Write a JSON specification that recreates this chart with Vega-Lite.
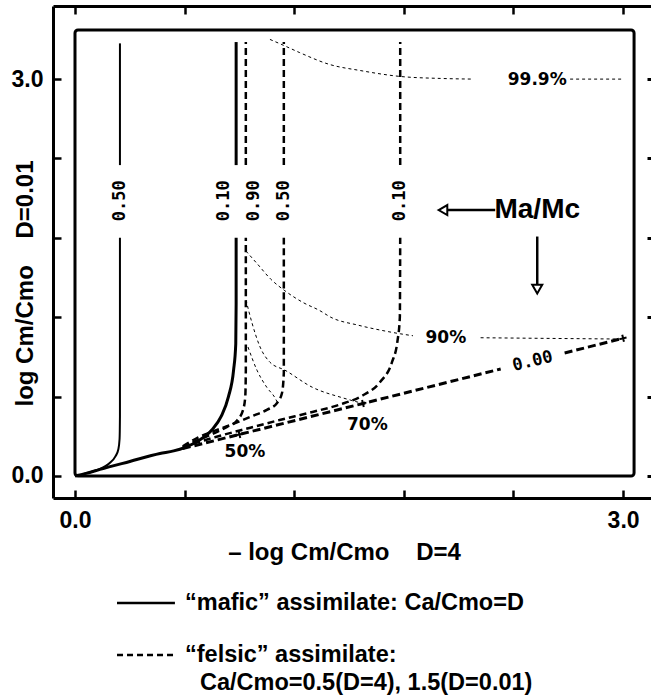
{
  "$schema": "https://vega.github.io/schema/vega-lite/v6.json",
  "width": 598,
  "height": 492,
  "autosize": {"type": "none"},
  "padding": {"left": 53, "top": 6, "right": 0, "bottom": 197},
  "background": "white",
  "config": {"view": {"stroke": null}, "text": {"font": "DejaVu Sans", "color": "black"}},
  "datasets": {
    "frame": [{"x": 0, "x2": 3.06, "y": 0, "y2": 3.371}],
    "ticks": [{"v": 0}, {"v": 0.6}, {"v": 1.2}, {"v": 1.8}, {"v": 2.4}, {"v": 3}],
    "curves": [
      {"curve": "mafic 0.50", "type": "mafic", "seg": "a", "i": 0, "x": 0, "y": 0},
      {"curve": "mafic 0.50", "type": "mafic", "seg": "a", "i": 1, "x": 0.06, "y": 0.02},
      {"curve": "mafic 0.50", "type": "mafic", "seg": "a", "i": 2, "x": 0.12, "y": 0.045},
      {"curve": "mafic 0.50", "type": "mafic", "seg": "a", "i": 3, "x": 0.19, "y": 0.098},
      {"curve": "mafic 0.50", "type": "mafic", "seg": "a", "i": 4, "x": 0.222, "y": 0.15},
      {"curve": "mafic 0.50", "type": "mafic", "seg": "a", "i": 5, "x": 0.237, "y": 0.2},
      {"curve": "mafic 0.50", "type": "mafic", "seg": "a", "i": 6, "x": 0.244, "y": 0.28},
      {"curve": "mafic 0.50", "type": "mafic", "seg": "a", "i": 7, "x": 0.246, "y": 0.45},
      {"curve": "mafic 0.50", "type": "mafic", "seg": "a", "i": 8, "x": 0.246, "y": 1.8},
      {"curve": "mafic 0.50", "type": "mafic", "seg": "b", "i": 9, "x": 0.246, "y": 2.35},
      {"curve": "mafic 0.50", "type": "mafic", "seg": "b", "i": 10, "x": 0.246, "y": 3.27},

      {"curve": "mafic 0.10", "type": "mafic", "seg": "a", "i": 0, "x": 0, "y": 0},
      {"curve": "mafic 0.10", "type": "mafic", "seg": "a", "i": 1, "x": 0.06, "y": 0.02},
      {"curve": "mafic 0.10", "type": "mafic", "seg": "a", "i": 2, "x": 0.137, "y": 0.05},
      {"curve": "mafic 0.10", "type": "mafic", "seg": "a", "i": 3, "x": 0.3, "y": 0.11},
      {"curve": "mafic 0.10", "type": "mafic", "seg": "a", "i": 4, "x": 0.465, "y": 0.17},
      {"curve": "mafic 0.10", "type": "mafic", "seg": "a", "i": 5, "x": 0.54, "y": 0.19},
      {"curve": "mafic 0.10", "type": "mafic", "seg": "a", "i": 6, "x": 0.6, "y": 0.215},
      {"curve": "mafic 0.10", "type": "mafic", "seg": "a", "i": 7, "x": 0.68, "y": 0.27},
      {"curve": "mafic 0.10", "type": "mafic", "seg": "a", "i": 8, "x": 0.75, "y": 0.35},
      {"curve": "mafic 0.10", "type": "mafic", "seg": "a", "i": 9, "x": 0.8, "y": 0.45},
      {"curve": "mafic 0.10", "type": "mafic", "seg": "a", "i": 10, "x": 0.84, "y": 0.6},
      {"curve": "mafic 0.10", "type": "mafic", "seg": "a", "i": 11, "x": 0.868, "y": 0.8},
      {"curve": "mafic 0.10", "type": "mafic", "seg": "a", "i": 12, "x": 0.88, "y": 1.0},
      {"curve": "mafic 0.10", "type": "mafic", "seg": "a", "i": 13, "x": 0.882, "y": 1.3},
      {"curve": "mafic 0.10", "type": "mafic", "seg": "a", "i": 14, "x": 0.882, "y": 1.8},
      {"curve": "mafic 0.10", "type": "mafic", "seg": "b", "i": 15, "x": 0.882, "y": 2.35},
      {"curve": "mafic 0.10", "type": "mafic", "seg": "b", "i": 16, "x": 0.882, "y": 3.28},

      {"curve": "felsic 0.90", "type": "felsic", "seg": "a", "i": 0, "x": 0.59, "y": 0.215},
      {"curve": "felsic 0.90", "type": "felsic", "seg": "a", "i": 1, "x": 0.646, "y": 0.255},
      {"curve": "felsic 0.90", "type": "felsic", "seg": "a", "i": 2, "x": 0.74, "y": 0.31},
      {"curve": "felsic 0.90", "type": "felsic", "seg": "a", "i": 3, "x": 0.83, "y": 0.37},
      {"curve": "felsic 0.90", "type": "felsic", "seg": "a", "i": 4, "x": 0.887, "y": 0.42},
      {"curve": "felsic 0.90", "type": "felsic", "seg": "a", "i": 5, "x": 0.92, "y": 0.5},
      {"curve": "felsic 0.90", "type": "felsic", "seg": "a", "i": 6, "x": 0.932, "y": 0.6},
      {"curve": "felsic 0.90", "type": "felsic", "seg": "a", "i": 7, "x": 0.935, "y": 0.8},
      {"curve": "felsic 0.90", "type": "felsic", "seg": "a", "i": 8, "x": 0.935, "y": 1.8},
      {"curve": "felsic 0.90", "type": "felsic", "seg": "b", "i": 9, "x": 0.935, "y": 2.35},
      {"curve": "felsic 0.90", "type": "felsic", "seg": "b", "i": 10, "x": 0.935, "y": 3.28},

      {"curve": "felsic 0.50", "type": "felsic", "seg": "a", "i": 0, "x": 0.59, "y": 0.225},
      {"curve": "felsic 0.50", "type": "felsic", "seg": "a", "i": 1, "x": 0.668, "y": 0.287},
      {"curve": "felsic 0.50", "type": "felsic", "seg": "a", "i": 2, "x": 0.777, "y": 0.348},
      {"curve": "felsic 0.50", "type": "felsic", "seg": "a", "i": 3, "x": 0.887, "y": 0.405},
      {"curve": "felsic 0.50", "type": "felsic", "seg": "a", "i": 4, "x": 0.974, "y": 0.455},
      {"curve": "felsic 0.50", "type": "felsic", "seg": "a", "i": 5, "x": 1.05, "y": 0.5},
      {"curve": "felsic 0.50", "type": "felsic", "seg": "a", "i": 6, "x": 1.106, "y": 0.552},
      {"curve": "felsic 0.50", "type": "felsic", "seg": "a", "i": 7, "x": 1.133, "y": 0.627},
      {"curve": "felsic 0.50", "type": "felsic", "seg": "a", "i": 8, "x": 1.143, "y": 0.78},
      {"curve": "felsic 0.50", "type": "felsic", "seg": "a", "i": 9, "x": 1.143, "y": 1.8},
      {"curve": "felsic 0.50", "type": "felsic", "seg": "b", "i": 10, "x": 1.143, "y": 2.35},
      {"curve": "felsic 0.50", "type": "felsic", "seg": "b", "i": 11, "x": 1.143, "y": 3.28},

      {"curve": "felsic 0.10", "type": "felsic", "seg": "a", "i": 0, "x": 0.59, "y": 0.22},
      {"curve": "felsic 0.10", "type": "felsic", "seg": "a", "i": 1, "x": 0.77, "y": 0.295},
      {"curve": "felsic 0.10", "type": "felsic", "seg": "a", "i": 2, "x": 0.96, "y": 0.365},
      {"curve": "felsic 0.10", "type": "felsic", "seg": "a", "i": 3, "x": 1.12, "y": 0.423},
      {"curve": "felsic 0.10", "type": "felsic", "seg": "a", "i": 4, "x": 1.3, "y": 0.484},
      {"curve": "felsic 0.10", "type": "felsic", "seg": "a", "i": 5, "x": 1.45, "y": 0.54},
      {"curve": "felsic 0.10", "type": "felsic", "seg": "a", "i": 6, "x": 1.576, "y": 0.61},
      {"curve": "felsic 0.10", "type": "felsic", "seg": "a", "i": 7, "x": 1.67, "y": 0.71},
      {"curve": "felsic 0.10", "type": "felsic", "seg": "a", "i": 8, "x": 1.735, "y": 0.86},
      {"curve": "felsic 0.10", "type": "felsic", "seg": "a", "i": 9, "x": 1.765, "y": 1.02},
      {"curve": "felsic 0.10", "type": "felsic", "seg": "a", "i": 10, "x": 1.778, "y": 1.2},
      {"curve": "felsic 0.10", "type": "felsic", "seg": "a", "i": 11, "x": 1.78, "y": 1.8},
      {"curve": "felsic 0.10", "type": "felsic", "seg": "b", "i": 12, "x": 1.78, "y": 2.35},
      {"curve": "felsic 0.10", "type": "felsic", "seg": "b", "i": 13, "x": 1.78, "y": 3.28},

      {"curve": "felsic 0.00", "type": "felsic0", "seg": "a", "i": 0, "x": 0.59, "y": 0.207},
      {"curve": "felsic 0.00", "type": "felsic0", "seg": "a", "i": 1, "x": 2.33, "y": 0.809},
      {"curve": "felsic 0.00", "type": "felsic0", "seg": "b", "i": 2, "x": 2.68, "y": 0.93},
      {"curve": "felsic 0.00", "type": "felsic0", "seg": "b", "i": 3, "x": 3.0, "y": 1.041},

      {"curve": "Ma/Mc 99.9%", "type": "contour", "seg": "a", "i": 0, "x": 1.067, "y": 3.3},
      {"curve": "Ma/Mc 99.9%", "type": "contour", "seg": "a", "i": 1, "x": 1.15, "y": 3.25},
      {"curve": "Ma/Mc 99.9%", "type": "contour", "seg": "a", "i": 2, "x": 1.23, "y": 3.2},
      {"curve": "Ma/Mc 99.9%", "type": "contour", "seg": "a", "i": 3, "x": 1.395, "y": 3.11},
      {"curve": "Ma/Mc 99.9%", "type": "contour", "seg": "a", "i": 4, "x": 1.56, "y": 3.065},
      {"curve": "Ma/Mc 99.9%", "type": "contour", "seg": "a", "i": 5, "x": 1.78, "y": 3.02},
      {"curve": "Ma/Mc 99.9%", "type": "contour", "seg": "a", "i": 6, "x": 2.0, "y": 3.005},
      {"curve": "Ma/Mc 99.9%", "type": "contour", "seg": "a", "i": 7, "x": 2.18, "y": 3.0},
      {"curve": "Ma/Mc 99.9%", "type": "contour", "seg": "b", "i": 8, "x": 2.71, "y": 3.0},
      {"curve": "Ma/Mc 99.9%", "type": "contour", "seg": "b", "i": 9, "x": 3.0, "y": 3.0},

      {"curve": "Ma/Mc 90%", "type": "contour", "seg": "a", "i": 0, "x": 0.936, "y": 1.7},
      {"curve": "Ma/Mc 90%", "type": "contour", "seg": "a", "i": 1, "x": 1.0, "y": 1.6},
      {"curve": "Ma/Mc 90%", "type": "contour", "seg": "a", "i": 2, "x": 1.07, "y": 1.49},
      {"curve": "Ma/Mc 90%", "type": "contour", "seg": "a", "i": 3, "x": 1.149, "y": 1.4},
      {"curve": "Ma/Mc 90%", "type": "contour", "seg": "a", "i": 4, "x": 1.25, "y": 1.31},
      {"curve": "Ma/Mc 90%", "type": "contour", "seg": "a", "i": 5, "x": 1.34, "y": 1.25},
      {"curve": "Ma/Mc 90%", "type": "contour", "seg": "a", "i": 6, "x": 1.4, "y": 1.2},
      {"curve": "Ma/Mc 90%", "type": "contour", "seg": "a", "i": 7, "x": 1.55, "y": 1.14},
      {"curve": "Ma/Mc 90%", "type": "contour", "seg": "a", "i": 8, "x": 1.7, "y": 1.095},
      {"curve": "Ma/Mc 90%", "type": "contour", "seg": "a", "i": 9, "x": 1.78, "y": 1.075},
      {"curve": "Ma/Mc 90%", "type": "contour", "seg": "a", "i": 10, "x": 1.85, "y": 1.06},
      {"curve": "Ma/Mc 90%", "type": "contour", "seg": "b", "i": 11, "x": 2.22, "y": 1.045},
      {"curve": "Ma/Mc 90%", "type": "contour", "seg": "b", "i": 12, "x": 2.6, "y": 1.04},
      {"curve": "Ma/Mc 90%", "type": "contour", "seg": "b", "i": 13, "x": 3.0, "y": 1.035},

      {"curve": "Ma/Mc 70%", "type": "contour", "seg": "a", "i": 0, "x": 0.936, "y": 1.33},
      {"curve": "Ma/Mc 70%", "type": "contour", "seg": "a", "i": 1, "x": 0.969, "y": 1.156},
      {"curve": "Ma/Mc 70%", "type": "contour", "seg": "a", "i": 2, "x": 1.013, "y": 0.975},
      {"curve": "Ma/Mc 70%", "type": "contour", "seg": "a", "i": 3, "x": 1.067, "y": 0.86},
      {"curve": "Ma/Mc 70%", "type": "contour", "seg": "a", "i": 4, "x": 1.149, "y": 0.8},
      {"curve": "Ma/Mc 70%", "type": "contour", "seg": "a", "i": 5, "x": 1.3, "y": 0.67},
      {"curve": "Ma/Mc 70%", "type": "contour", "seg": "a", "i": 6, "x": 1.467, "y": 0.59},
      {"curve": "Ma/Mc 70%", "type": "contour", "seg": "a", "i": 7, "x": 1.576, "y": 0.548},

      {"curve": "Ma/Mc 50%", "type": "contour", "seg": "a", "i": 0, "x": 0.947, "y": 0.975},
      {"curve": "Ma/Mc 50%", "type": "contour", "seg": "a", "i": 1, "x": 0.996, "y": 0.8},
      {"curve": "Ma/Mc 50%", "type": "contour", "seg": "a", "i": 2, "x": 1.05, "y": 0.67},
      {"curve": "Ma/Mc 50%", "type": "contour", "seg": "a", "i": 3, "x": 1.095, "y": 0.59},
      {"curve": "Ma/Mc 50%", "type": "contour", "seg": "a", "i": 4, "x": 1.11, "y": 0.55}
    ],
    "marks": [
      {"label": "50%", "x": 0.9, "y": 0.314},
      {"label": "70%", "x": 1.576, "y": 0.548},
      {"label": "90%", "x": 3.0, "y": 1.041}
    ],
    "dlabels": [
      {"text": "0.50", "x": 0.244, "y": 2.08},
      {"text": "0.10", "x": 0.815, "y": 2.08},
      {"text": "0.90", "x": 0.978, "y": 2.08},
      {"text": "0.50", "x": 1.143, "y": 2.08},
      {"text": "0.10", "x": 1.78, "y": 2.08}
    ],
    "plabels": [
      {"text": "99.9%", "x": 2.53, "y": 2.99},
      {"text": "90%", "x": 2.03, "y": 1.043},
      {"text": "70%", "x": 1.6, "y": 0.385},
      {"text": "50%", "x": 0.93, "y": 0.18}
    ],
    "legend": [
      {"type": "mafic", "x": 0.23, "x2": 0.547, "y": -0.96},
      {"type": "felsic", "x": 0.23, "x2": 0.547, "y": -1.353}
    ]
  },
  "resolve": {"axis": {"x": "independent", "y": "independent"}},
  "layer": [
    {
      "data": {"name": "frame"},
      "mark": {"type": "rect", "fill": null, "stroke": "black", "strokeWidth": 3, "cornerRadius": 3},
      "encoding": {
        "x": {"field": "x", "type": "quantitative", "scale": {"domain": [-0.1204, 3.1527], "nice": false, "zero": false},
          "axis": {"orient": "bottom", "values": [0, 0.6, 1.2, 1.8, 2.4, 3], "labelExpr": "datum.value == 0 || datum.value == 3 ? format(datum.value, '.1f') : ''",
            "grid": false, "domainColor": "black", "domainWidth": 3, "tickColor": "black", "tickWidth": 2.5, "tickSize": -8,
            "labelFont": "Liberation Sans", "labelFontWeight": "bold", "labelFontSize": 23, "labelColor": "black", "labelPadding": 19, "labelFlush": false,
            "title": "–  log Cm/Cmo\u00a0\u00a0\u00a0\u00a0D=4", "titleFont": "Liberation Sans", "titleFontWeight": "bold", "titleFontSize": 24, "titleColor": "black",
            "titleBaseline": "middle", "titleY": 54, "titleX": 291}},
        "x2": {"field": "x2"},
        "y": {"field": "y", "type": "quantitative", "scale": {"domain": [-0.1663, 3.5525], "nice": false, "zero": false},
          "axis": {"orient": "left", "values": [0, 0.6, 1.2, 1.8, 2.4, 3], "labelExpr": "datum.value == 0 || datum.value == 3 ? format(datum.value, '.1f') : ''",
            "grid": false, "domainColor": "black", "domainWidth": 3, "tickColor": "black", "tickWidth": 2.5, "tickSize": -8,
            "labelFont": "Liberation Sans", "labelFontWeight": "bold", "labelFontSize": 23, "labelColor": "black", "labelPadding": 18, "labelFlush": false,
            "title": "log Cm/Cmo\u00a0\u00a0\u00a0\u00a0D=0.01", "titleFont": "Liberation Sans", "titleFontWeight": "bold", "titleFontSize": 24, "titleColor": "black",
            "titleAngle": 270, "titleBaseline": "middle", "titleX": -28, "titleY": 277}},
        "y2": {"field": "y2"}
      }
    },
    {
      "data": {"name": "ticks"},
      "mark": {"type": "point", "opacity": 0},
      "encoding": {
        "x": {"field": "v", "type": "quantitative",
          "axis": {"orient": "top", "values": [0, 0.6, 1.2, 1.8, 2.4, 3], "labels": false, "grid": false, "title": null,
            "domainColor": "black", "domainWidth": 3, "tickColor": "black", "tickWidth": 2.5, "tickSize": -8}},
        "y": {"field": "v", "type": "quantitative",
          "axis": {"orient": "right", "values": [0, 0.6, 1.2, 1.8, 2.4, 3], "labels": false, "grid": false, "title": null,
            "domain": false, "tickColor": "black", "tickWidth": 3, "tickSize": -4}}
      }
    },
    {
      "data": {"name": "curves"},
      "transform": [{"filter": "datum.curve == 'mafic 0.50'"}],
      "mark": {"type": "line", "stroke": "black", "strokeWidth": 2, "interpolate": "monotone"},
      "encoding": {
        "x": {"field": "x", "type": "quantitative", "axis": null},
        "y": {"field": "y", "type": "quantitative", "axis": null},
        "detail": {"field": "seg"},
        "order": {"field": "i"}
      }
    },
    {
      "data": {"name": "curves"},
      "transform": [{"filter": "datum.curve == 'mafic 0.10'"}],
      "mark": {"type": "line", "stroke": "black", "strokeWidth": 3, "interpolate": "monotone"},
      "encoding": {
        "x": {"field": "x", "type": "quantitative", "axis": null},
        "y": {"field": "y", "type": "quantitative", "axis": null},
        "detail": {"field": "seg"},
        "order": {"field": "i"}
      }
    },
    {
      "data": {"name": "curves"},
      "transform": [{"filter": "datum.type == 'felsic'"}],
      "mark": {"type": "line", "stroke": "black", "strokeWidth": 2.5, "strokeDash": [7, 4], "interpolate": "monotone"},
      "encoding": {
        "x": {"field": "x", "type": "quantitative", "axis": null},
        "y": {"field": "y", "type": "quantitative", "axis": null},
        "detail": [{"field": "curve"}, {"field": "seg"}],
        "order": {"field": "i"}
      }
    },
    {
      "data": {"name": "curves"},
      "transform": [{"filter": "datum.type == 'felsic0'"}],
      "mark": {"type": "line", "stroke": "black", "strokeWidth": 3, "strokeDash": [8, 4]},
      "encoding": {
        "x": {"field": "x", "type": "quantitative", "axis": null},
        "y": {"field": "y", "type": "quantitative", "axis": null},
        "detail": {"field": "seg"},
        "order": {"field": "i"}
      }
    },
    {
      "data": {"name": "curves"},
      "transform": [{"filter": "datum.type == 'contour'"}],
      "mark": {"type": "line", "stroke": "black", "strokeWidth": 1, "strokeDash": [3, 3], "interpolate": "monotone"},
      "encoding": {
        "x": {"field": "x", "type": "quantitative", "axis": null},
        "y": {"field": "y", "type": "quantitative", "axis": null},
        "detail": [{"field": "curve"}, {"field": "seg"}],
        "order": {"field": "i"}
      }
    },
    {
      "data": {"name": "marks"},
      "mark": {"type": "point", "shape": "M-1,0L1,0M0,-1L0,1", "size": 50, "stroke": "black", "strokeWidth": 2, "filled": false, "angle": 346, "opacity": 1},
      "encoding": {
        "x": {"field": "x", "type": "quantitative", "axis": null},
        "y": {"field": "y", "type": "quantitative", "axis": null}
      }
    },
    {
      "data": {"name": "dlabels"},
      "mark": {"type": "text", "angle": 270, "font": "DejaVu Sans Mono", "fontWeight": "bold", "fontSize": 17, "align": "center", "baseline": "middle"},
      "encoding": {
        "x": {"field": "x", "type": "quantitative", "axis": null},
        "y": {"field": "y", "type": "quantitative", "axis": null},
        "text": {"field": "text"}
      }
    },
    {
      "data": {"values": [{"text": "0.00", "x": 2.505, "y": 0.867}]},
      "mark": {"type": "text", "angle": 346, "font": "DejaVu Sans Mono", "fontWeight": "bold", "fontSize": 17, "align": "center", "baseline": "middle"},
      "encoding": {
        "x": {"field": "x", "type": "quantitative", "axis": null},
        "y": {"field": "y", "type": "quantitative", "axis": null},
        "text": {"field": "text"}
      }
    },
    {
      "data": {"name": "plabels"},
      "mark": {"type": "text", "font": "DejaVu Sans", "fontWeight": "bold", "fontSize": 17, "align": "center", "baseline": "middle"},
      "encoding": {
        "x": {"field": "x", "type": "quantitative", "axis": null},
        "y": {"field": "y", "type": "quantitative", "axis": null},
        "text": {"field": "text"}
      }
    },
    {
      "data": {"values": [{"text": "Ma/Mc", "x": 2.53, "y": 2.01}]},
      "mark": {"type": "text", "font": "Liberation Sans", "fontWeight": "bold", "fontSize": 28, "align": "center", "baseline": "middle"},
      "encoding": {
        "x": {"field": "x", "type": "quantitative", "axis": null},
        "y": {"field": "y", "type": "quantitative", "axis": null},
        "text": {"field": "text"}
      }
    },
    {
      "data": {"values": [{"dir": "left", "x": 2.02, "x2": 2.3, "y": 2.01, "y2": 2.01}, {"dir": "down", "x": 2.53, "x2": 2.53, "y": 1.81, "y2": 1.44}]},
      "mark": {"type": "rule", "stroke": "black", "strokeWidth": 2.5},
      "encoding": {
        "x": {"field": "x", "type": "quantitative", "axis": null},
        "x2": {"field": "x2"},
        "y": {"field": "y", "type": "quantitative", "axis": null},
        "y2": {"field": "y2"}
      }
    },
    {
      "data": {"values": [{"dir": "left", "x": 2.014, "y": 2.01}, {"dir": "down", "x": 2.53, "y": 1.413}]},
      "mark": {"type": "point", "filled": true, "fill": "white", "stroke": "black", "strokeWidth": 2, "size": 100, "opacity": 1},
      "encoding": {
        "x": {"field": "x", "type": "quantitative", "axis": null},
        "y": {"field": "y", "type": "quantitative", "axis": null},
        "shape": {"field": "dir", "type": "nominal", "scale": {"domain": ["left", "down"], "range": ["triangle-left", "triangle-down"]}, "legend": null}
      }
    },
    {
      "data": {"name": "legend"},
      "mark": {"type": "rule", "stroke": "black", "strokeWidth": 2.5},
      "encoding": {
        "x": {"field": "x", "type": "quantitative", "axis": null},
        "x2": {"field": "x2"},
        "y": {"field": "y", "type": "quantitative", "axis": null},
        "strokeDash": {"field": "type", "type": "nominal", "scale": {"domain": ["mafic", "felsic"], "range": [[1, 0], [6, 4]]}, "legend": null}
      }
    },
    {
      "data": {"values": [
        {"text": "“mafic” assimilate: Ca/Cmo=D", "x": 0.602, "y": -0.96},
        {"text": "“felsic” assimilate:", "x": 0.602, "y": -1.353},
        {"text": "Ca/Cmo=0.5(D=4), 1.5(D=0.01)", "x": 0.684, "y": -1.565}
      ]},
      "mark": {"type": "text", "font": "Liberation Sans", "fontWeight": "bold", "fontSize": 23.5, "align": "left", "baseline": "middle"},
      "encoding": {
        "x": {"field": "x", "type": "quantitative", "axis": null},
        "y": {"field": "y", "type": "quantitative", "axis": null},
        "text": {"field": "text"}
      }
    }
  ]
}
